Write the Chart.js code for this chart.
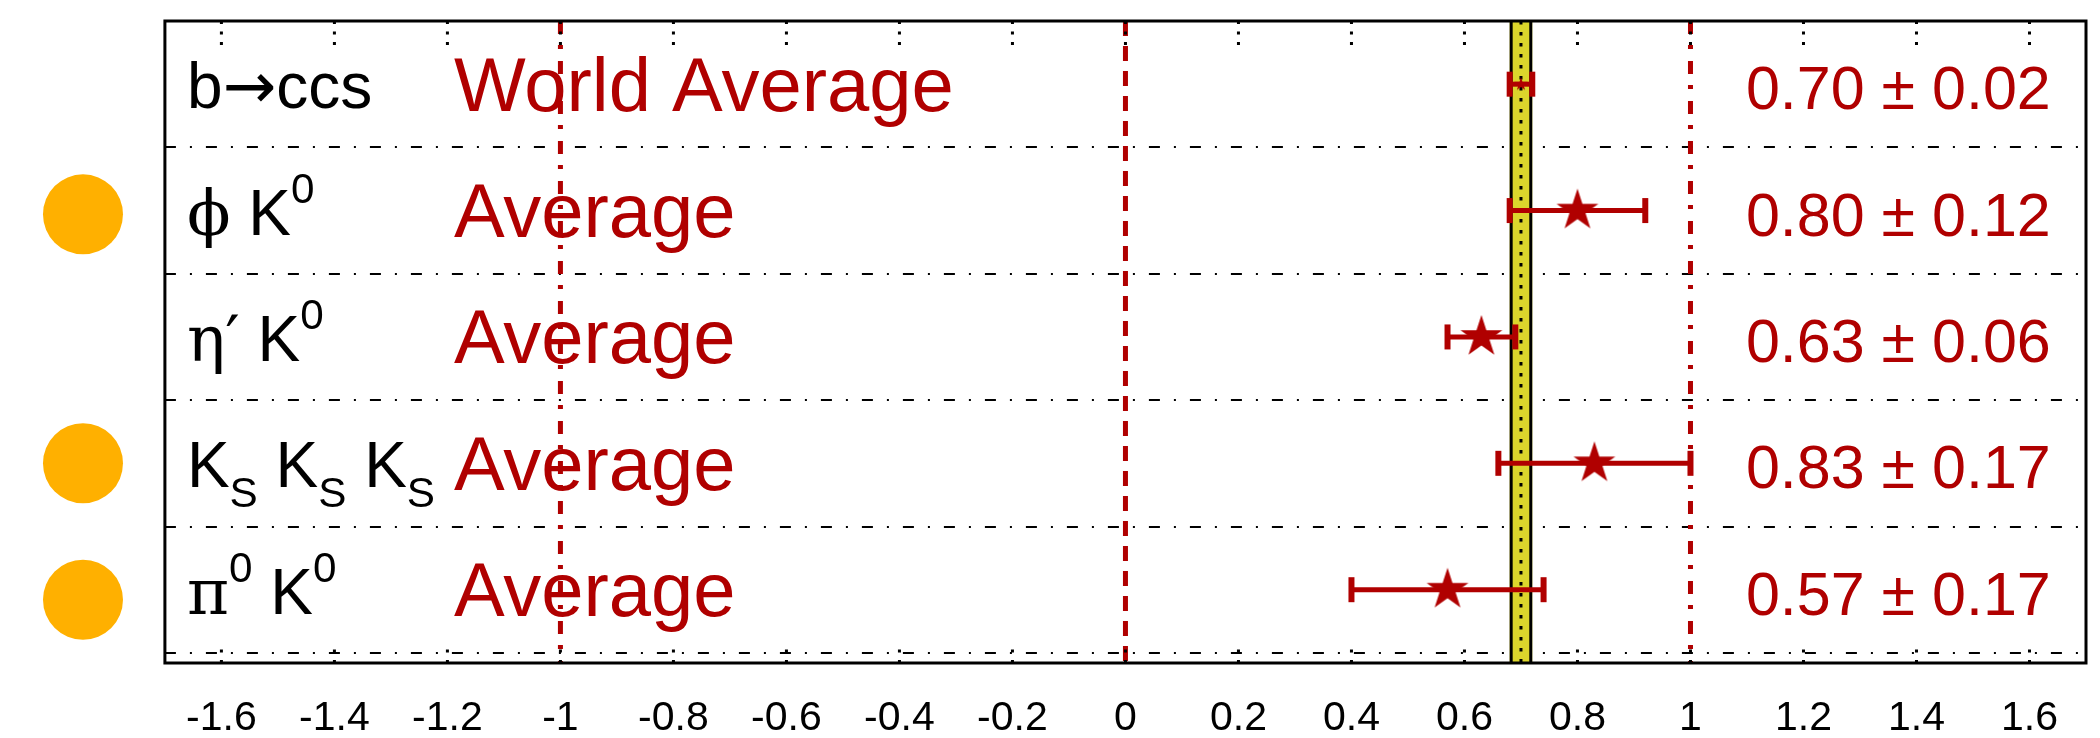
<!DOCTYPE html>
<html>
<head>
<meta charset="utf-8">
<script src="https://cdn.jsdelivr.net/npm/chart.js@4/dist/chart.umd.min.js"></script>
<style>
  html, body { margin: 0; padding: 0; background: #fff; overflow: hidden; }
  canvas { display: block; }
</style>
</head>
<body>
<canvas id="c" width="2100" height="738"></canvas>
<script>
// Decay modes, top to bottom (TLatex-like markup: ^{..} superscript, _{..} subscript)
const modeLabels = ['b→ccs', 'ϕ K^{0}', 'η′ K^{0}', 'K_{S} K_{S} K_{S}', 'π^{0} K^{0}'];
const averageLabels = ['World Average', 'Average', 'Average', 'Average', 'Average'];
const rowPositions = [5, 4, 3, 2, 1];
const centralValues = [0.70, 0.80, 0.63, 0.83, 0.57];
const errors = [0.02, 0.12, 0.06, 0.17, 0.17];

// Orange highlight dots beside selected modes
const markerX = [-1.845, -1.845, -1.845];
const markerY = [3.97, 2.0, 0.92];

// Row separators and reference lines
const rowDividers = [4.5, 3.5, 2.5, 1.5, 0.5];
const referenceLines = [-1, 0, 1];

// Axis ticks
const tickValues = [-1.6, -1.4, -1.2, -1, -0.8, -0.6, -0.4, -0.2, 0, 0.2, 0.4, 0.6, 0.8, 1, 1.2, 1.4, 1.6];
const tickLabels = ['-1.6', '-1.4', '-1.2', '-1', '-0.8', '-0.6', '-0.4', '-0.2', '0', '0.2', '0.4', '0.6', '0.8', '1', '1.2', '1.4', '1.6'];
const frameX = [-1.7, 1.7];
const frameY = [0.42, 5.5];

const RED = '#b00000';
const YELLOW = '#dcd62c';
const ORANGE = '#ffb000';
const SANS = "'Liberation Sans', Arial, sans-serif";
const SERIF = "'DejaVu Serif', 'Liberation Serif', serif";
const ARROW = "'DejaVu Sans', sans-serif";
const SYMBOLS = /[\u0370-\u03ff\u2032]/;

function makeStar(R, color) {
  const size = Math.ceil(R * 2 + 2);
  const c = document.createElement('canvas');
  c.width = size; c.height = size;
  const g = c.getContext('2d');
  const cx = size / 2, cy = size / 2, r = R * 0.382;
  g.beginPath();
  for (let k = 0; k < 10; k++) {
    const rad = k % 2 === 0 ? R : r;
    const a = -Math.PI / 2 + k * Math.PI / 5;
    const px = cx + rad * Math.cos(a), py = cy + rad * Math.sin(a);
    if (k === 0) g.moveTo(px, py); else g.lineTo(px, py);
  }
  g.closePath();
  g.fillStyle = color;
  g.fill();
  return c;
}

function parseMarkup(markup) {
  const parts = [];
  let i = 0, buf = '';
  while (i < markup.length) {
    const ch = markup[i];
    if ((ch === '^' || ch === '_') && markup[i + 1] === '{') {
      if (buf) { parts.push({ t: buf, m: 0 }); buf = ''; }
      const end = markup.indexOf('}', i);
      parts.push({ t: markup.slice(i + 2, end), m: ch === '^' ? 1 : -1 });
      i = end + 1;
    } else { buf += ch; i++; }
  }
  if (buf) parts.push({ t: buf, m: 0 });
  return parts;
}

function fontFor(ch) {
  if (ch === '→') return ARROW;
  return SYMBOLS.test(ch) ? SERIF : SANS;
}

function drawRich(ctx, markup, x, y, size, color) {
  ctx.fillStyle = color;
  ctx.textBaseline = 'alphabetic';
  ctx.textAlign = 'left';
  let cx = x;
  for (const p of parseMarkup(markup)) {
    const s = p.m === 0 ? size : size * 0.66;
    const dy = p.m === 1 ? -size * 0.5 : (p.m === -1 ? size * 0.31 : 0);
    for (const ch of p.t) {
      ctx.font = `${s}px ${fontFor(ch)}`;
      ctx.fillText(ch, cx, y + dy);
      cx += ctx.measureText(ch).width;
    }
  }
}

const panelPlugin = {
  id: 'panel',
  beforeDatasetsDraw(chart) {
    const { ctx, scales: { x, y } } = chart;
    const L = x.getPixelForValue(frameX[0]), R = x.getPixelForValue(frameX[1]);
    const T = y.getPixelForValue(frameY[1]), B = y.getPixelForValue(frameY[0]);
    ctx.save();

    // dash-dotted row separators
    ctx.strokeStyle = '#000';
    ctx.lineWidth = 2;
    ctx.setLineDash([11, 14, 2, 14]);
    rowDividers.forEach(v => {
      const py = Math.round(y.getPixelForValue(v));
      ctx.beginPath(); ctx.moveTo(L, py); ctx.lineTo(R, py); ctx.stroke();
    });

    // red reference lines at -1, 0, +1
    ctx.strokeStyle = RED;
    ctx.lineWidth = 5;
    referenceLines.forEach(v => {
      ctx.setLineDash(v === 0 ? [15, 10] : [13, 11, 4, 12]);
      const px = x.getPixelForValue(v);
      ctx.beginPath(); ctx.moveTo(px, T); ctx.lineTo(px, B); ctx.stroke();
    });

    // world-average band
    const x0 = x.getPixelForValue(centralValues[0] - errors[0]);
    const x1 = x.getPixelForValue(centralValues[0] + errors[0]);
    const xc = x.getPixelForValue(centralValues[0]);
    ctx.setLineDash([]);
    ctx.fillStyle = YELLOW;
    ctx.fillRect(x0, T, x1 - x0, B - T);
    ctx.strokeStyle = '#000';
    ctx.lineWidth = 3;
    [x0 + 1.5, x1 - 1.5].forEach(px => {
      ctx.beginPath(); ctx.moveTo(px, T); ctx.lineTo(px, B); ctx.stroke();
    });
    ctx.setLineDash([3.5, 7.5]);
    ctx.beginPath(); ctx.moveTo(xc, T); ctx.lineTo(xc, B); ctx.stroke();

    // horizontal error bars with end caps
    ctx.setLineDash([]);
    ctx.strokeStyle = RED;
    centralValues.forEach((v, i) => {
      const py = y.getPixelForValue(rowPositions[i]);
      const xa = x.getPixelForValue(v - errors[i]);
      const xb = x.getPixelForValue(v + errors[i]);
      ctx.lineWidth = 5;
      ctx.beginPath(); ctx.moveTo(xa, py); ctx.lineTo(xb, py); ctx.stroke();
      ctx.lineWidth = 6;
      [xa, xb].forEach(px => {
        ctx.beginPath(); ctx.moveTo(px, py - 12.5); ctx.lineTo(px, py + 12.5); ctx.stroke();
      });
    });
    ctx.restore();
  },
  afterDatasetsDraw(chart) {
    const { ctx, scales: { x, y } } = chart;
    const L = x.getPixelForValue(frameX[0]), R = x.getPixelForValue(frameX[1]);
    const T = y.getPixelForValue(frameY[1]), B = y.getPixelForValue(frameY[0]);
    ctx.save();

    // dotted tick marks on the top and bottom edges
    ctx.strokeStyle = '#000';
    ctx.lineWidth = 3;
    ctx.setLineDash([3, 7.5]);
    tickValues.forEach(v => {
      const px = x.getPixelForValue(v);
      ctx.beginPath(); ctx.moveTo(px, T); ctx.lineTo(px, T + 25); ctx.stroke();
      ctx.beginPath(); ctx.moveTo(px, B); ctx.lineTo(px, B - 14); ctx.stroke();
    });

    // frame
    ctx.setLineDash([]);
    ctx.lineWidth = 3;
    ctx.strokeRect(L, T, R - L, B - T);

    // row texts
    rowPositions.forEach((r, i) => {
      const py = y.getPixelForValue(r);
      drawRich(ctx, modeLabels[i], L + 22, py + 24, 64, '#000');
      ctx.fillStyle = RED;
      ctx.font = `76px ${SANS}`;
      ctx.textBaseline = 'alphabetic';
      ctx.textAlign = 'left';
      ctx.fillText(averageLabels[i], L + 289, py + 26.5);
      ctx.font = `61px ${SANS}`;
      ctx.fillText(`${centralValues[i].toFixed(2)} ± ${errors[i].toFixed(2)}`, L + 1581, py + 25);
    });
    ctx.restore();
  }
};

const bigStar = makeStar(22, RED);
const smallStar = makeStar(7, RED);

new Chart(document.getElementById('c'), {
  type: 'scatter',
  data: {
    datasets: [
      {
        label: 'highlight',
        data: markerX.map((v, i) => ({ x: v, y: markerY[i] })),
        pointRadius: 40,
        pointHoverRadius: 40,
        backgroundColor: ORANGE,
        borderWidth: 0,
        clip: false
      },
      {
        label: 'average',
        data: centralValues.map((v, i) => ({ x: v, y: rowPositions[i] })),
        pointStyle: centralValues.map((v, i) => (i === 0 ? smallStar : bigStar)),
        pointRadius: 10,
        clip: false
      }
    ]
  },
  options: {
    responsive: false,
    animation: false,
    devicePixelRatio: 1,
    events: [],
    layout: { autoPadding: false, padding: { left: 18, right: 14, top: 21, bottom: 0 } },
    plugins: { legend: { display: false }, tooltip: { enabled: false } },
    scales: {
      x: {
        type: 'linear',
        min: -1.96,
        max: 1.7,
        afterBuildTicks: s => { s.ticks = tickValues.map(v => ({ value: v })); },
        afterFit: s => { s.height = 75; },
        ticks: {
          callback: (v, i) => tickLabels[i],
          font: { family: SANS, size: 41, lineHeight: 1 },
          color: '#000',
          padding: 35,
          maxRotation: 0,
          minRotation: 0,
          autoSkip: false
        },
        grid: { display: false, drawTicks: false },
        border: { display: false }
      },
      y: { type: 'linear', min: frameY[0], max: frameY[1], display: false }
    }
  },
  plugins: [panelPlugin]
});
</script>
</body>
</html>
